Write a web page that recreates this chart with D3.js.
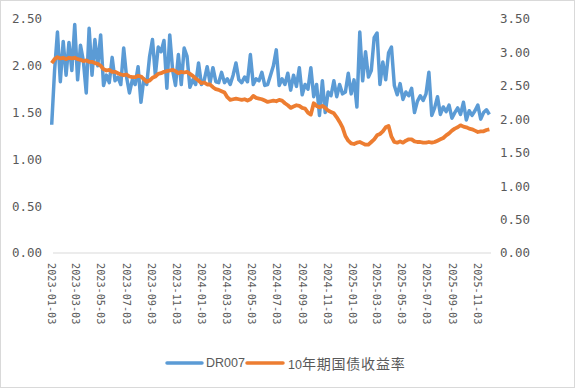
<!DOCTYPE html>
<html>
<head>
<meta charset="utf-8">
<script src="https://cdn.jsdelivr.net/npm/d3@7"></script>
<style>
  body { margin: 0; background: #fff; }
  svg { display: block; }
</style>
</head>
<body>
<svg width="575" height="389"></svg>
<script>
// weekly samples starting on the first trading day
var startDate = "2023-01-03";

var dr007 = [
  1.37, 1.95, 2.36, 1.83, 2.26, 1.90, 2.25, 1.95, 2.44, 1.85,
  2.22, 2.05, 1.71, 2.40, 1.90, 2.28, 2.00, 2.33, 1.79, 1.90,
  1.82, 2.09, 1.84, 1.88, 1.80, 2.19, 1.88, 1.71, 1.85, 1.80,
  1.99, 1.61, 1.86, 1.80, 2.10, 2.28, 1.90, 2.20, 2.15, 2.27,
  1.76, 2.33, 1.95, 1.79, 2.12, 1.80, 2.19, 2.10, 1.77, 1.85,
  1.80, 2.03, 1.80, 1.85, 1.99, 1.82, 1.98, 1.83, 1.82, 1.93,
  1.82, 1.86, 1.80, 1.90, 2.03, 1.85, 1.82, 1.88, 1.83, 2.12,
  1.80, 1.86, 1.84, 1.93, 1.79, 1.80, 1.90, 2.00, 2.17, 1.79,
  1.86, 1.80, 1.92, 1.74, 1.90, 1.78, 1.98, 1.69, 1.80, 1.75,
  1.98, 1.67, 1.80, 1.47, 1.84, 1.50, 1.72, 1.68, 1.84, 1.67,
  1.80, 1.70, 1.72, 1.92, 1.70, 1.85, 1.56, 2.36, 1.84, 2.15,
  1.88, 1.95, 2.30, 2.35, 1.80, 2.04, 1.85, 2.14, 2.20, 1.79,
  1.69, 1.81, 1.64, 1.72, 1.68, 1.76, 1.50, 1.62, 1.68, 1.63,
  1.70, 1.93, 1.47, 1.55, 1.67, 1.48, 1.56, 1.51, 1.58, 1.44,
  1.50, 1.55, 1.48, 1.61, 1.42, 1.52, 1.47, 1.52, 1.58, 1.43,
  1.50, 1.53, 1.48
];

var cgb10y = [
  2.84, 2.90, 2.93, 2.91, 2.92, 2.90, 2.92, 2.91, 2.92, 2.90,
  2.89, 2.87, 2.88, 2.86, 2.86, 2.84, 2.83, 2.80, 2.75, 2.73,
  2.74, 2.71, 2.71, 2.69, 2.67, 2.66, 2.67, 2.64, 2.63, 2.63,
  2.65, 2.64, 2.60, 2.56, 2.58, 2.62, 2.64, 2.68, 2.69, 2.71,
  2.72, 2.73, 2.74, 2.72, 2.69, 2.71, 2.70, 2.71, 2.68, 2.65,
  2.61, 2.58, 2.54, 2.55, 2.52, 2.52, 2.48, 2.45, 2.44, 2.42,
  2.40, 2.33, 2.29, 2.30, 2.31, 2.30, 2.29, 2.30, 2.28, 2.30,
  2.35, 2.32, 2.31, 2.30, 2.28, 2.26, 2.27, 2.28, 2.27, 2.29,
  2.28, 2.24, 2.21, 2.17, 2.19, 2.21, 2.20, 2.17, 2.16, 2.10,
  2.07, 2.24, 2.20, 2.18, 2.20, 2.17, 2.13, 2.11, 2.09, 2.03,
  1.96, 1.88, 1.75, 1.68, 1.64, 1.63, 1.65, 1.66, 1.64, 1.62,
  1.62, 1.66, 1.70, 1.76, 1.78, 1.82, 1.88, 1.90, 1.74, 1.66,
  1.65, 1.67, 1.65, 1.68, 1.70, 1.70, 1.67, 1.66, 1.66, 1.65,
  1.65, 1.66, 1.65, 1.66, 1.68, 1.70, 1.72, 1.76, 1.79, 1.83,
  1.86, 1.88, 1.91, 1.89, 1.88, 1.86, 1.85, 1.83, 1.81, 1.82,
  1.82, 1.84, 1.85
];

var tickLabels = [
  "2023-01-03", "2023-03-03", "2023-05-03", "2023-07-03", "2023-09-03", "2023-11-03",
  "2024-01-03", "2024-03-03", "2024-05-03", "2024-07-03", "2024-09-03", "2024-11-03",
  "2025-01-03", "2025-03-03", "2025-05-03", "2025-07-03", "2025-09-03", "2025-11-03"
];
var leftTicks = [0, 0.5, 1, 1.5, 2, 2.5];
var rightTicks = [0, 0.5, 1, 1.5, 2, 2.5, 3, 3.5];

var parse = d3.utcParse("%Y-%m-%d");
var dates = dr007.map((d, i) => d3.utcDay.offset(parse(startDate), i * 7));

var svg = d3.select("svg"),
    width = +svg.attr("width"),
    height = +svg.attr("height");

var blue = "#5b9bd5", orange = "#ed7d31", textCol = "#595959";

svg.append("rect")
    .attr("x", 0.5).attr("y", 0.5)
    .attr("width", width - 1).attr("height", height - 2)
    .attr("fill", "#fff")
    .attr("stroke", "#d9d9d9");

var x = d3.scaleUtc()
    .domain([parse("2023-01-03"), parse("2025-12-06")])
    .range([51.7, 491]);

var yL = d3.scaleLinear().domain([0, 2.5]).range([253, 19]);
var yR = d3.scaleLinear().domain([0, 3.5]).range([253, 19]);

// baseline
svg.append("line")
    .attr("x1", 53).attr("x2", 491)
    .attr("y1", yL(0)).attr("y2", yL(0))
    .attr("stroke", "#d9d9d9");

// left axis labels
svg.append("g").selectAll("text")
    .data(leftTicks)
    .join("text")
    .attr("x", 42)
    .attr("y", d => yL(d))
    .attr("dy", "0.35em")
    .attr("text-anchor", "end")
    .attr("font-family", "DejaVu Sans Mono")
    .attr("font-size", 12.5)
    .attr("fill", textCol)
    .text(d => d3.format(".2f")(d));

// right axis labels
svg.append("g").selectAll("text")
    .data(rightTicks)
    .join("text")
    .attr("x", 500)
    .attr("y", d => yR(d))
    .attr("dy", "0.35em")
    .attr("text-anchor", "start")
    .attr("font-family", "DejaVu Sans Mono")
    .attr("font-size", 12.5)
    .attr("fill", textCol)
    .text(d => d3.format(".2f")(d));

// x labels, rotated
svg.append("g").selectAll("text")
    .data(tickLabels)
    .join("text")
    .attr("transform", d => "translate(" + x(parse(d)) + ",263) rotate(90)")
    .attr("dy", "0.35em")
    .attr("font-family", "DejaVu Sans Mono")
    .attr("font-size", 10.2)
    .attr("fill", textCol)
    .text(d => d);

var lineL = d3.line().x((d, i) => x(dates[i])).y(d => yL(d));
var lineR = d3.line().x((d, i) => x(dates[i])).y(d => yR(d));

svg.append("path")
    .datum(dr007)
    .attr("d", lineL)
    .attr("fill", "none")
    .attr("stroke", blue)
    .attr("stroke-width", 3.5)
    .attr("stroke-linejoin", "round");

svg.append("path")
    .datum(cgb10y)
    .attr("d", lineR)
    .attr("fill", "none")
    .attr("stroke", orange)
    .attr("stroke-width", 3.8)
    .attr("stroke-linejoin", "round");

// legend
var legend = svg.append("g").attr("transform", "translate(0,363)");
legend.append("line")
    .attr("x1", 167).attr("x2", 202)
    .attr("stroke", blue).attr("stroke-width", 3.5).attr("stroke-linecap", "round");
legend.append("text")
    .attr("x", 206).attr("dy", "0.35em")
    .attr("font-family", "Liberation Sans").attr("font-size", 12.5)
    .attr("fill", textCol)
    .text("DR007");
legend.append("line")
    .attr("x1", 247).attr("x2", 283)
    .attr("stroke", orange).attr("stroke-width", 3.5).attr("stroke-linecap", "round");
var lt = legend.append("text")
    .attr("x", 288).attr("dy", "0.35em")
    .attr("fill", textCol);
lt.append("tspan")
    .attr("font-family", "Liberation Sans").attr("font-size", 12.5)
    .text("10");
lt.append("tspan")
    .attr("font-family", "Noto Sans CJK SC").attr("font-size", 14)
    .attr("letter-spacing", 0.8)
    .text("年期国债收益率");
</script>
</body>
</html>
